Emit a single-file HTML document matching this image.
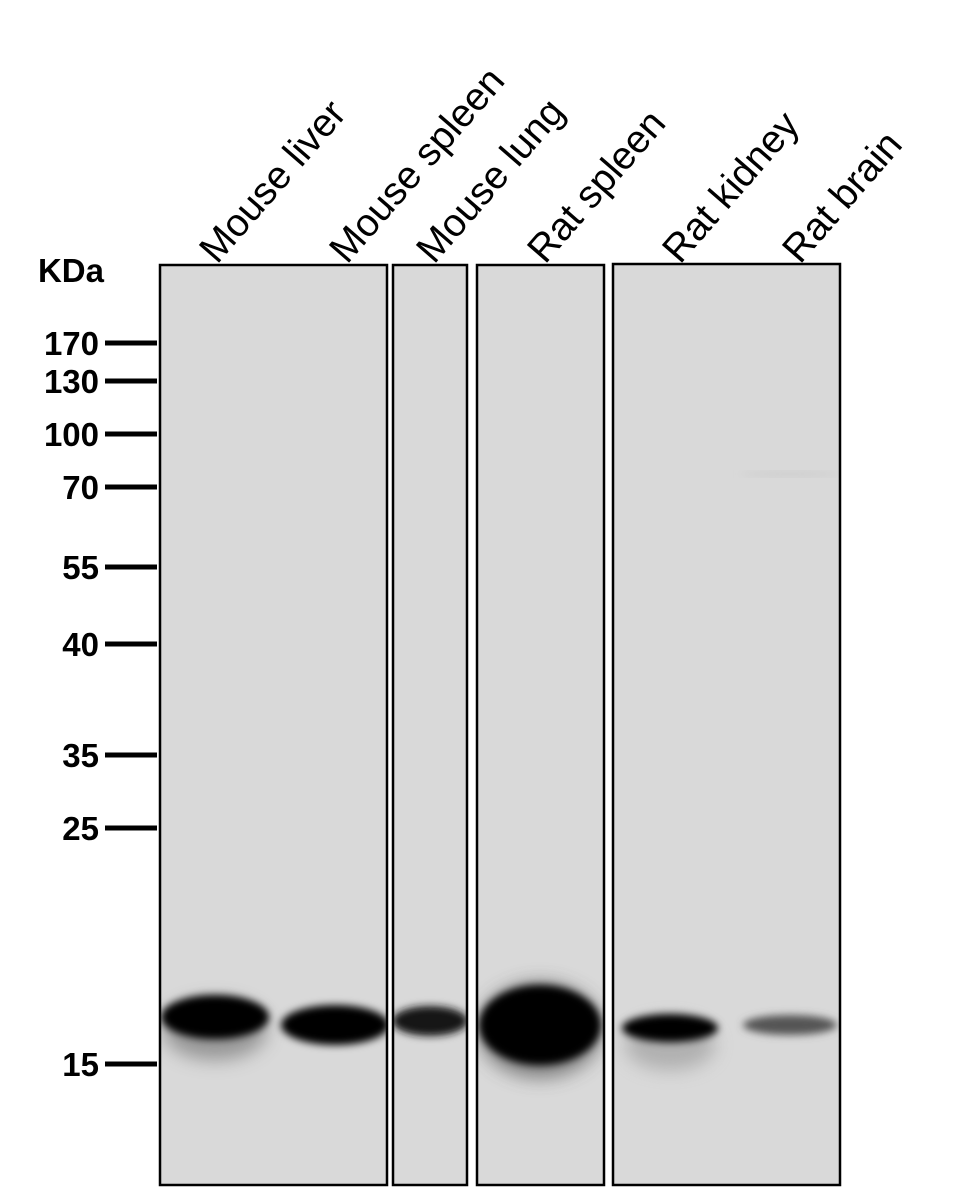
<!DOCTYPE html>
<html><head><style>body{margin:0;background:#fff}svg{display:block}</style></head><body>
<svg width="959" height="1188" viewBox="0 0 959 1188" xmlns="http://www.w3.org/2000/svg" font-family="Liberation Sans, Arial, sans-serif">
<defs>
<filter id="b" x="-50%" y="-50%" width="200%" height="200%"><feGaussianBlur stdDeviation="4"/></filter>
<filter id="b2" x="-50%" y="-50%" width="200%" height="200%"><feGaussianBlur stdDeviation="9"/></filter>
<clipPath id="c1"><rect x="160" y="265" width="227" height="920"/></clipPath>
<clipPath id="c2"><rect x="393" y="265" width="74" height="920"/></clipPath>
<clipPath id="c3"><rect x="477" y="265" width="127" height="920"/></clipPath>
<clipPath id="c4"><rect x="613" y="264" width="227" height="921"/></clipPath>
</defs>
<rect x="160" y="265" width="227" height="920" fill="#d9d9d9"/>
<rect x="393" y="265" width="74" height="920" fill="#d9d9d9"/>
<rect x="477" y="265" width="127" height="920" fill="#d9d9d9"/>
<rect x="613" y="264" width="227" height="921" fill="#d9d9d9"/>
<g clip-path="url(#c1)">
<ellipse cx="215" cy="1030" rx="52" ry="30" fill="#555" filter="url(#b2)" opacity="0.5"/>
<ellipse cx="215" cy="1017" rx="54" ry="22" fill="#000" filter="url(#b)"/>
<ellipse cx="335" cy="1025" rx="54" ry="20" fill="#000" filter="url(#b)"/>
</g>
<g clip-path="url(#c2)">
<ellipse cx="430" cy="1021" rx="38" ry="15" fill="#151515" filter="url(#b)"/>
</g>
<g clip-path="url(#c3)">
<ellipse cx="540" cy="1030" rx="62" ry="48" fill="#444" filter="url(#b2)" opacity="0.6"/>
<ellipse cx="540" cy="1025" rx="61" ry="40" fill="#000" filter="url(#b)"/>
</g>
<g clip-path="url(#c4)">
<ellipse cx="670" cy="1045" rx="45" ry="25" fill="#888" filter="url(#b2)" opacity="0.5"/>
<ellipse cx="670" cy="1028" rx="48" ry="14" fill="#000" filter="url(#b)"/>
<ellipse cx="790" cy="1025" rx="47" ry="10" fill="#555" filter="url(#b)"/>
<ellipse cx="790" cy="474" rx="50" ry="2" fill="#c8c8c8" filter="url(#b)"/>
</g>
<g fill="none" stroke="#000" stroke-width="2.5">
<rect x="160" y="265" width="227" height="920"/>
<rect x="393" y="265" width="74" height="920"/>
<rect x="477" y="265" width="127" height="920"/>
<rect x="613" y="264" width="227" height="921"/>
</g>
<g stroke="#000" stroke-width="5">
<line x1="105" y1="343" x2="157" y2="343"/>
<line x1="105" y1="381" x2="157" y2="381"/>
<line x1="105" y1="434" x2="157" y2="434"/>
<line x1="105" y1="487" x2="157" y2="487"/>
<line x1="105" y1="567" x2="157" y2="567"/>
<line x1="105" y1="644" x2="157" y2="644"/>
<line x1="105" y1="755" x2="157" y2="755"/>
<line x1="105" y1="828" x2="157" y2="828"/>
<line x1="105" y1="1064" x2="157" y2="1064"/>
</g>
<g font-size="33" font-weight="bold" text-anchor="end">
<text x="99" y="355">170</text>
<text x="99" y="393">130</text>
<text x="99" y="446">100</text>
<text x="99" y="499">70</text>
<text x="99" y="579">55</text>
<text x="99" y="656">40</text>
<text x="99" y="767">35</text>
<text x="99" y="840">25</text>
<text x="99" y="1076">15</text>
<text x="104" y="282">KDa</text>
</g>
<g font-size="39">
<text transform="translate(217,265) rotate(-49)">Mouse liver</text>
<text transform="translate(347,265) rotate(-49)">Mouse spleen</text>
<text transform="translate(434,265) rotate(-49)">Mouse lung</text>
<text transform="translate(545,265) rotate(-49)">Rat spleen</text>
<text transform="translate(680,265) rotate(-49)">Rat kidney</text>
<text transform="translate(800,265) rotate(-49)">Rat brain</text>
</g>
</svg>
</body></html>
